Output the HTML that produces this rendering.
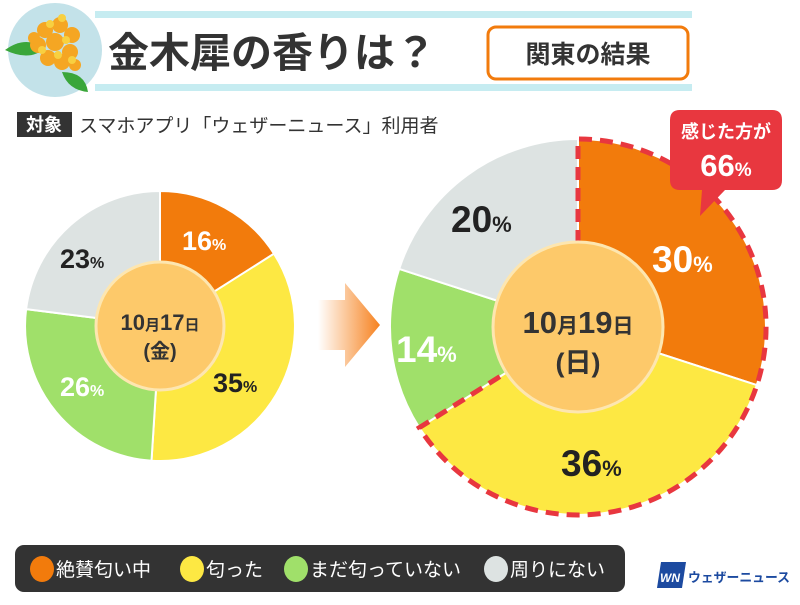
<!DOCTYPE html>
<html><head><meta charset="utf-8"><style>
body{margin:0;width:800px;height:600px;background:#fff;overflow:hidden;font-family:"Liberation Sans","Noto Sans CJK JP",sans-serif;}
svg text{font-family:"Liberation Sans","Noto Sans CJK JP",sans-serif;}
</style></head><body>
<svg width="800" height="600" viewBox="0 0 800 600" xmlns="http://www.w3.org/2000/svg">
<defs>
<linearGradient id="ag" x1="0" x2="1" y1="0" y2="0">
<stop offset="0" stop-color="#f6821f" stop-opacity="0"/><stop offset="1" stop-color="#f6821f"/></linearGradient>
</defs>
<rect x="95" y="11" width="597" height="7" fill="#c6ecf1"/>
<rect x="95" y="84" width="597" height="7" fill="#c6ecf1"/>
<circle cx="55" cy="50" r="47" fill="#c3e2e9"/>
<path d="M5,50 Q25,35 45,48 Q30,62 5,50Z" fill="#3aa63a"/>
<path d="M62,72 Q85,72 88,92 Q68,90 62,72Z" fill="#3aa63a"/>
<g fill="#f5a623">
<circle cx="45" cy="30" r="8"/><circle cx="60" cy="25" r="8"/><circle cx="72" cy="35" r="8"/><circle cx="38" cy="45" r="8"/><circle cx="55" cy="42" r="9"/><circle cx="70" cy="52" r="8"/><circle cx="48" cy="58" r="8"/><circle cx="62" cy="62" r="8"/><circle cx="75" cy="65" r="6"/><circle cx="34" cy="38" r="6"/>
</g>
<g fill="#f8d040"><circle cx="50" cy="24" r="4"/><circle cx="66" cy="40" r="4"/><circle cx="42" cy="50" r="4"/><circle cx="58" cy="55" r="4"/><circle cx="72" cy="60" r="4"/><circle cx="62" cy="18" r="4"/></g>
<text x="108" y="67" font-size="41" font-weight="bold" fill="#333">金木犀の香りは？</text>
<rect x="488" y="27" width="200" height="52" rx="8" fill="#fff" stroke="#f27b0c" stroke-width="3"/>
<text x="588" y="63" font-size="25" font-weight="bold" fill="#333" text-anchor="middle">関東の結果</text>
<rect x="17" y="112" width="55" height="25" fill="#333"/>
<text x="44" y="131" font-size="18" font-weight="bold" fill="#fff" text-anchor="middle">対象</text>
<text x="79" y="132" font-size="19" fill="#333">スマホアプリ「ウェザーニュース」利用者</text>
<g stroke="#fff" stroke-width="2">
<path d="M160,326 L160,191 A135,135 0 0 1 274,253.7Z" fill="#f27b0c"/>
<path d="M160,326 L274,253.7 A135,135 0 0 1 151.5,460.7Z" fill="#fde843"/>
<path d="M160,326 L151.5,460.7 A135,135 0 0 1 26.1,309.1Z" fill="#a0e06a"/>
<path d="M160,326 L26.1,309.1 A135,135 0 0 1 160,191Z" fill="#dde3e2"/>
</g>
<circle cx="160" cy="326" r="64" fill="#fdc96a" stroke="#fde6b0" stroke-width="3"/>
<text x="160" y="330" font-size="22" font-weight="bold" fill="#333" text-anchor="middle">10<tspan font-size="15">月</tspan>17<tspan font-size="15">日</tspan></text>
<text x="160" y="358" font-size="20" font-weight="bold" fill="#333" text-anchor="middle">(金)</text>
<g font-size="27" fill="#222" font-weight="bold">
<text x="182" y="250" fill="#fff">16<tspan font-size="16">%</tspan></text>
<text x="213" y="392">35<tspan font-size="16">%</tspan></text>
<text x="60" y="396" fill="#fff">26<tspan font-size="16">%</tspan></text>
<text x="60" y="268">23<tspan font-size="16">%</tspan></text>
</g>
<path d="M318,300 L345,300 L345,283 L380,325 L345,367 L345,350 L318,350Z" fill="url(#ag)"/>
<g stroke="#fff" stroke-width="2">
<path d="M578,327 L578,139 A188,188 0 0 1 756.8,385.1Z" fill="#f27b0c"/>
<path d="M578,327 L756.8,385.1 A188,188 0 0 1 419.3,427.7Z" fill="#fde843"/>
<path d="M578,327 L419.3,427.7 A188,188 0 0 1 399.2,268.9Z" fill="#a0e06a"/>
<path d="M578,327 L399.2,268.9 A188,188 0 0 1 578,139Z" fill="#dde3e2"/>
</g>
<path d="M578,327 L578,139 A188,188 0 1 1 419.3,427.7Z" fill="none" stroke="#e8373f" stroke-width="5" stroke-dasharray="13,8"/>
<circle cx="578" cy="327" r="85" fill="#fdc96a" stroke="#fde6b0" stroke-width="3"/>
<text x="578" y="333" font-size="31" font-weight="bold" fill="#333" text-anchor="middle">10<tspan font-size="21">月</tspan>19<tspan font-size="21">日</tspan></text>
<text x="578" y="372" font-size="27" font-weight="bold" fill="#333" text-anchor="middle">(日)</text>
<g font-size="37" fill="#222" font-weight="bold">
<text x="652" y="272" fill="#fff">30<tspan font-size="22">%</tspan></text>
<text x="561" y="476">36<tspan font-size="22">%</tspan></text>
<text x="396" y="362" fill="#fff">14<tspan font-size="22">%</tspan></text>
<text x="451" y="232">20<tspan font-size="22">%</tspan></text>
</g>
<path d="M680,110 H772 Q782,110 782,120 V180 Q782,190 772,190 H725 L700,216 L702,190 H680 Q670,190 670,180 V120 Q670,110 680,110Z" fill="#e8373f"/>
<text x="726" y="138" font-size="18" fill="#fff" text-anchor="middle" font-weight="bold">感じた方が</text>
<text x="726" y="176" font-size="31" fill="#fff" text-anchor="middle" font-weight="bold">66<tspan font-size="19">%</tspan></text>
<rect x="15" y="545" width="610" height="47" rx="9" fill="#333"/>
<g font-size="19" fill="#fff">
<ellipse cx="42" cy="569" rx="12" ry="13" fill="#f27b0c"/><text x="56" y="576">絶賛匂い中</text>
<ellipse cx="192" cy="569" rx="12" ry="13" fill="#fde843"/><text x="206" y="576">匂った</text>
<ellipse cx="296" cy="569" rx="12" ry="13" fill="#a0e06a"/><text x="310" y="576">まだ匂っていない</text>
<ellipse cx="496" cy="569" rx="12" ry="13" fill="#dde3e2"/><text x="510" y="576">周りにない</text>
</g>
<path d="M661,562 L686,562 L682,588 L657,588Z" fill="#1c4aa0"/>
<text x="660" y="582" font-size="12" font-weight="bold" fill="#fff" font-style="italic">WN</text>
<text x="688" y="582" font-size="13" font-weight="bold" fill="#1c4aa0" textLength="102" lengthAdjust="spacingAndGlyphs">ウェザーニュース</text>
</svg>
</body></html>
